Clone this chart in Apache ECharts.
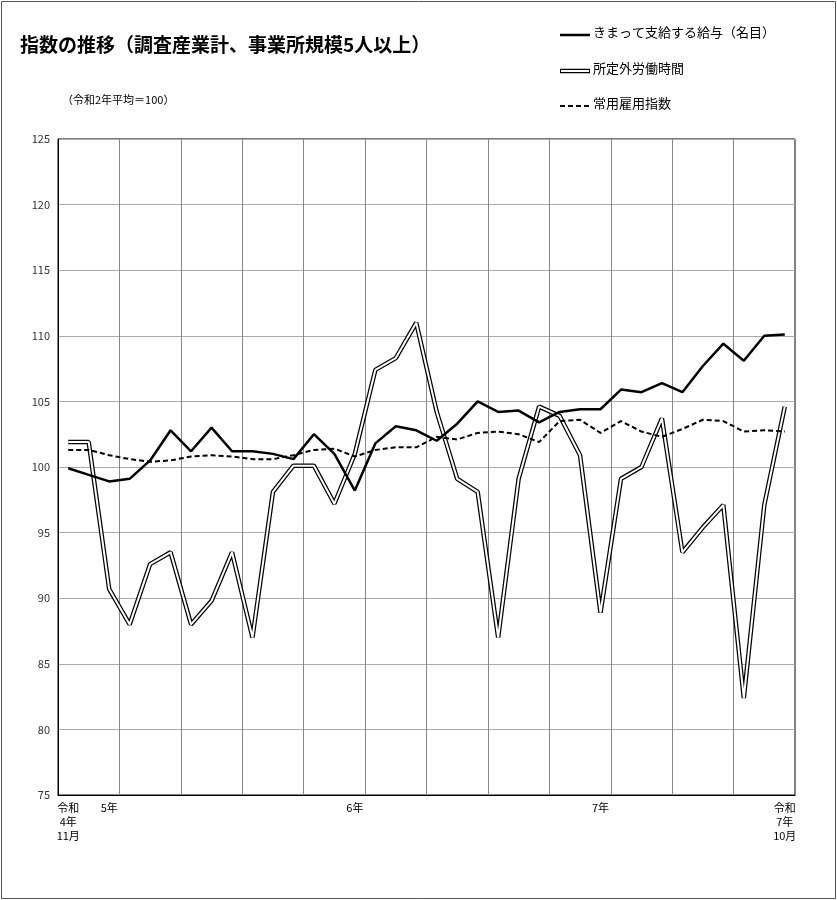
<!DOCTYPE html><html><head><meta charset="utf-8"><script src="https://cdn.jsdelivr.net/npm/echarts@6/dist/echarts.min.js"></script></head><body style="margin:0"><div id="c" style="width:837px;height:900px"></div><script>
const categories=[];for(let i=0;i<36;i++)categories.push(String(i));
const xLabels={0:'令和\n4年\n11月',2:'5年',14:'6年',26:'7年',35:'令和\n7年\n10月'};
const pay=[99.9,99.4,98.9,99.1,100.5,102.8,101.2,103.0,101.2,101.2,101.0,100.6,102.5,101.0,98.2,101.8,103.1,102.8,102.0,103.3,105.0,104.2,104.3,103.4,104.2,104.4,104.4,105.9,105.7,106.4,105.7,107.7,109.4,108.1,110.0,110.1];
const overtime=[101.9,101.9,90.7,88.0,92.6,93.5,88.0,89.8,93.5,87.0,98.1,100.1,100.1,97.2,101.0,107.4,108.3,111.0,104.2,99.1,98.1,87.0,99.1,104.6,103.9,100.9,88.9,99.1,100.0,103.7,93.5,95.4,97.1,82.4,97.1,104.6];
const employ=[101.3,101.3,100.9,100.6,100.4,100.5,100.8,100.9,100.8,100.6,100.6,100.9,101.3,101.4,100.8,101.3,101.5,101.5,102.3,102.1,102.6,102.7,102.5,101.9,103.5,103.6,102.6,103.5,102.7,102.3,102.9,103.6,103.5,102.7,102.8,102.7];
const F='"Noto Sans CJK JP",sans-serif';
const ch=echarts.init(document.getElementById('c'));
ch.setOption({animation:false,
graphic:[
{type:'rect',shape:{x:1.5,y:1.5,width:834,height:897},style:{fill:'none',stroke:'#555',lineWidth:1}},
{type:'text',left:20,top:35,style:{text:'指数の推移（調査産業計、事業所規模5人以上）',font:'bold 19px '+F,fill:'#000'}},
{type:'text',left:62,top:94,style:{text:'（令和2年平均＝100）',font:'11px '+F,fill:'#000'}},
{type:'line',shape:{x1:560,y1:35,x2:590,y2:35},style:{stroke:'#000',lineWidth:2.5}},
{type:'text',left:593,top:26,style:{text:'きまって支給する給与（名目）',font:'13px '+F,fill:'#000'}},
{type:'line',shape:{x1:560,y1:71,x2:590,y2:71},style:{stroke:'#000',lineWidth:4.5}},
{type:'line',shape:{x1:561,y1:71,x2:589,y2:71},style:{stroke:'#fff',lineWidth:2}},
{type:'text',left:593,top:62,style:{text:'所定外労働時間',font:'13px '+F,fill:'#000'}},
{type:'line',shape:{x1:560,y1:106,x2:590,y2:106},style:{stroke:'#000',lineWidth:2,lineDash:[5,3]}},
{type:'text',left:593,top:97,style:{text:'常用雇用指数',font:'13px '+F,fill:'#000'}}
],
grid:{left:58,right:42,top:139,bottom:105,show:true,borderColor:'#000',borderWidth:1},
xAxis:{type:'category',data:categories,boundaryGap:true,axisTick:{show:false},axisLine:{lineStyle:{color:'#000'}},
 axisLabel:{interval:0,formatter:(v,i)=>xLabels[i]||'',fontSize:11,color:'#000',fontFamily:F,lineHeight:14,margin:6},
 splitLine:{show:true,interval:(i)=>i%3===0,lineStyle:{color:'#888',width:1}}},
yAxis:{type:'value',min:75,max:125,interval:5,axisLine:{show:true,lineStyle:{color:'#000'}},axisTick:{show:false},
 axisLabel:{fontSize:11,color:'#333',fontFamily:F},splitLine:{lineStyle:{color:'#aaa'}}},
series:[
{type:'line',data:overtime,symbol:'none',lineStyle:{color:'#000',width:4.5},z:2},
{type:'line',data:overtime,symbol:'none',lineStyle:{color:'#fff',width:2},z:3},
{type:'line',data:employ,symbol:'none',lineStyle:{color:'#000',width:2,type:[5,3]},z:4},
{type:'line',data:pay,symbol:'none',lineStyle:{color:'#000',width:2.5},z:5}
]});
</script></body></html>
